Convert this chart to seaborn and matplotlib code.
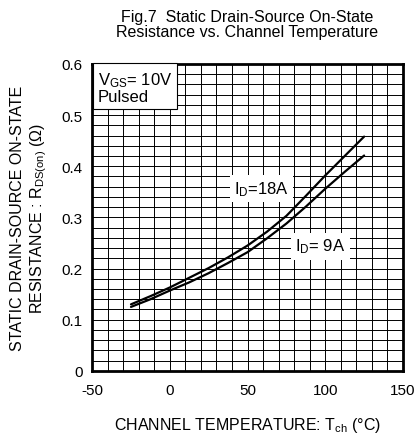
import seaborn as sns
import pandas as pd
import matplotlib.pyplot as plt

# values
temps = [-25, -12.5, 0, 12.5, 25, 37.5, 50, 62.5, 75, 87.5, 100, 112.5, 125]
r_18a = [0.130, 0.146, 0.163, 0.182, 0.201, 0.222, 0.245, 0.272, 0.303, 0.342, 0.382, 0.420, 0.458]
r_9a = [0.125, 0.140, 0.157, 0.173, 0.191, 0.211, 0.232, 0.259, 0.288, 0.321, 0.356, 0.389, 0.421]
x_ticks = [-50, 0, 50, 100, 150]
y_ticks = [0, 0.1, 0.2, 0.3, 0.4, 0.5, 0.6]

df = pd.concat([
    pd.DataFrame({'Tch': temps, 'R': r_18a, 'ID': '18A'}),
    pd.DataFrame({'Tch': temps, 'R': r_9a, 'ID': '9A'}),
], ignore_index=True)

sns.set_style("white")
plt.rcParams['font.family'] = ['Liberation Sans', 'DejaVu Sans']
plt.rcParams['mathtext.fontset'] = 'custom'
plt.rcParams['mathtext.rm'] = 'Liberation Sans'
plt.rcParams['mathtext.it'] = 'Liberation Sans'
for k in ['text.color', 'axes.labelcolor', 'xtick.color', 'ytick.color']:
    plt.rcParams[k] = 'black'

fig = plt.figure(figsize=(4.15, 4.39), dpi=100)
ax = fig.add_axes([0.222, 0.153, 0.749, 0.699])

sns.lineplot(data=df, x='Tch', y='R', hue='ID', palette=['black', 'black'],
             linewidth=1.6, legend=False, ax=ax, zorder=3)

ax.set_xlim(-50, 150)
ax.set_ylim(0, 0.6)
ax.set_xticks(x_ticks)
ax.set_xticklabels([str(t) for t in x_ticks])
ax.set_yticks(y_ticks)
ax.set_yticklabels(['0'] + [f'{v:.1f}' for v in y_ticks[1:]])
ax.set_xticks(range(-50, 151, 10), minor=True)
ax.set_yticks([i * 0.02 for i in range(31)], minor=True)
ax.grid(True, which='both', color='black', linewidth=0.7)
ax.tick_params(which='both', length=0, labelsize=11)
ax.tick_params(axis='x', pad=9)
ax.tick_params(axis='y', pad=7)
for s in ax.spines.values():
    s.set_linewidth(2)
    s.set_color('black')
    s.set_zorder(4)

ax.set_xlabel(r'CHANNEL TEMPERATURE: T$_{\mathrm{ch}}$ (°C)', fontsize=11.5, labelpad=13)
ax.set_ylabel('STATIC DRAIN-SOURCE ON-STATE\n'
              r'RESISTANCE : R$_{\mathrm{DS(on)}}$ ($\Omega$)', fontsize=11.5, labelpad=9)
ax.set_title('Fig.7  Static Drain-Source On-State\nResistance vs. Channel Temperature',
             fontsize=11.5, pad=20, linespacing=1.0)

ax.text(-46.5, 0.588, 'V$_{\\mathrm{GS}}$= 10V\nPulsed', fontsize=12, va='top', ha='left',
        linespacing=1.0, zorder=5,
        bbox=dict(boxstyle='square,pad=0.3', fc='white', ec='black', lw=0.8))
ax.text(59, 0.356, 'I$_{\\mathrm{D}}$=18A', fontsize=12, va='center', ha='center', zorder=5,
        bbox=dict(boxstyle='square,pad=0.25', fc='white', ec='none'))
ax.text(97, 0.244, 'I$_{\\mathrm{D}}$= 9A', fontsize=12, va='center', ha='center', zorder=5,
        bbox=dict(boxstyle='square,pad=0.25', fc='white', ec='none'))

fig.savefig('out.png', dpi=100)
